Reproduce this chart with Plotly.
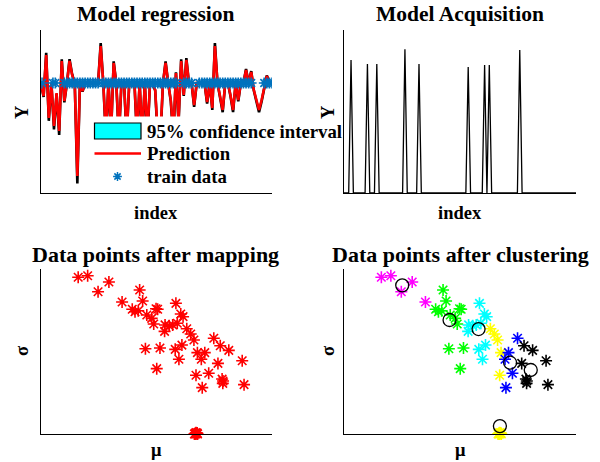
import plotly.graph_objects as go

FONT = "Liberation Serif"
W, H = 600, 462

# ---------------- data ----------------
# Model regression (top-left)
reg_index = list(range(1, 91))
reg_pred = [0, -0.325, 0.7, -0.875, 0, -1.075, -0.25, -1.2, 0.55, -0.45,
            0, 0.55, 0.2, 0, -2.325, 0, -0.2, 0, 0, 0,
            0, 0, 0, 0.925, 0, -1.3, 0, -1.175, 0.5, 0,
            -1.3, 0, 0, -1.3, 0, 0, 0, -1.3, 0, -1.3,
            0, -1.3, 0, 0, -0.175, -1.3, -1.3, 0, 0.5, 0,
            -0.425, -1.3, 0.25, -0.925, 0.55, -0.3, 0.575, 0, 0, -0.55,
            0, 0, 0, 0, -0.475, 0, -0.625, 0.925, 0, -0.3,
            -0.675, 0, 0, -0.3, -0.675, 0, -0.425, 0, 0, 0.325,
            0, 0.275, -0.175, -0.425, -0.675, -0.425, -0.125, 0.175, 0.025, 0]
ci_scale = 1.08  # 95% CI bound relative to prediction excursion
train_index = ([1.4, 5.6, 6.5] + [i for i in range(10, 54) if i != 24]
               + [56, 57, 58, 59] + list(range(62, 83)) + [87, 88, 89, 90])
train_value = [0.0] * len(train_index)

# Model acquisition (top-right)
acq_n = 100
acq_peak_index = [4, 11, 15, 27, 33, 54, 61, 63, 76]
acq_peak_value = [0.816, 0.791, 0.791, 0.882, 0.791, 0.773, 0.785, 0.785, 0.877]

# Data points after mapping / clustering (bottom)
mu = [0.161, 0.202, 0.294, 0.247, 0.351,
      0.427, 0.440, 0.395, 0.407, 0.421, 0.498, 0.505, 0.458, 0.479, 0.488,
      0.584, 0.605, 0.615, 0.537, 0.555, 0.570, 0.590, 0.535,
      0.631, 0.648, 0.662,
      0.452, 0.515,
      0.581, 0.610, 0.597,
      0.501,
      0.748,
      0.776, 0.813,
      0.677,
      0.709, 0.694,
      0.766, 0.871,
      0.671,
      0.726,
      0.784, 0.787, 0.788,
      0.698,
      0.879,
      0.664, 0.668, 0.671, 0.674, 0.678, 0.671, 0.667, 0.676]
sigma = [0.950, 0.959, 0.921, 0.862, 0.800,
         0.873, 0.806, 0.756, 0.741, 0.747, 0.759, 0.756, 0.721, 0.701, 0.667,
         0.792, 0.727, 0.711, 0.661, 0.656, 0.661, 0.671, 0.622,
         0.638, 0.606, 0.570,
         0.517, 0.521,
         0.513, 0.539, 0.453,
         0.396,
         0.580,
         0.535, 0.507,
         0.493,
         0.493, 0.453,
         0.428, 0.444,
         0.356,
         0.368,
         0.333, 0.307, 0.321,
         0.281,
         0.299,
         0.0, 0.004, 0.0, 0.004, 0.0, 0.008, 0.0, 0.006]
cluster = (["M"] * 5 + ["G"] * 10 + ["C"] * 8 + ["Y"] * 3 + ["G"] * 2 + ["C"] * 3
           + ["G"] + ["B"] + ["K"] * 2 + ["Y"] + ["B"] * 2 + ["K"] * 2 + ["Y"] + ["B"]
           + ["K"] * 3 + ["B"] + ["K"] + ["Y"] * 8)
cluster_order = ["M", "G", "C", "Y", "B", "K"]
cluster_color = {"M": "#FF00FF", "G": "#00FF00", "C": "#00FFFF",
                 "Y": "#FFFF00", "B": "#0000FF", "K": "#000000"}
centroid_mu = [0.251, 0.455, 0.580, 0.716, 0.805, 0.672]
centroid_sigma = [0.901, 0.691, 0.636, 0.432, 0.388, 0.048]

# ---------------- figure ----------------
fig = go.Figure()


def star(color, size, width):
    return dict(symbol="asterisk-open", size=size, color=color,
                line=dict(color=color, width=width))


# top-left
fig.add_trace(go.Scatter(x=reg_index, y=[v * ci_scale for v in reg_pred], mode="lines",
                         line=dict(color="black", width=2.6), xaxis="x", yaxis="y",
                         showlegend=False, hoverinfo="skip"))
fig.add_trace(go.Scatter(x=reg_index, y=reg_pred, mode="lines",
                         line=dict(color="#FF0000", width=2.6), xaxis="x", yaxis="y",
                         showlegend=False))
fig.add_trace(go.Scatter(x=train_index, y=train_value, mode="markers",
                         marker=star("#0072BD", 9, 1.6),
                         xaxis="x", yaxis="y", showlegend=False))

# top-right
acq_index = list(range(1, acq_n + 1))
acq_value = [0.0] * acq_n
for i, v in zip(acq_peak_index, acq_peak_value):
    acq_value[i - 1] = v
fig.add_trace(go.Scatter(x=acq_index, y=acq_value, mode="lines",
                         line=dict(color="black", width=1.3), xaxis="x2", yaxis="y2",
                         showlegend=False, cliponaxis=False))

# bottom-left
fig.add_trace(go.Scatter(x=mu, y=sigma, mode="markers",
                         marker=star("#FF0000", 10, 1.6),
                         xaxis="x3", yaxis="y3", showlegend=False, cliponaxis=False))

# bottom-right
for c in cluster_order:
    xs = [m for m, k in zip(mu, cluster) if k == c]
    ys = [s for s, k in zip(sigma, cluster) if k == c]
    fig.add_trace(go.Scatter(x=xs, y=ys, mode="markers",
                             marker=star(cluster_color[c], 10, 1.6),
                             xaxis="x4", yaxis="y4", showlegend=False, cliponaxis=False))
fig.add_trace(go.Scatter(x=centroid_mu, y=centroid_sigma, mode="markers",
                         marker=dict(symbol="circle-open", size=13, color="black",
                                     line=dict(color="black", width=1.3)),
                         xaxis="x4", yaxis="y4", showlegend=False, cliponaxis=False))


def px_x(p):
    return p / W


def px_y(p):
    return 1 - p / H


xL = [px_x(41), px_x(272)]
xR = [px_x(344), px_x(576)]
yT = [px_y(193), px_y(30)]
yB = [px_y(434), px_y(269)]

axis_common = dict(showline=True, linecolor="black", linewidth=1.3, showticklabels=False,
                   ticks="", showgrid=False, zeroline=False, fixedrange=True)

fig.update_layout(
    width=W, height=H, margin=dict(l=0, r=0, t=0, b=0),
    paper_bgcolor="white", plot_bgcolor="white", showlegend=False,
    xaxis=dict(domain=xL, range=[1, 90], anchor="y", **axis_common),
    yaxis=dict(domain=yT, range=[-2.75, 1.325], anchor="x", **axis_common),
    xaxis2=dict(domain=xR, range=[1, acq_n], anchor="y2", **axis_common),
    yaxis2=dict(domain=yT, range=[0, 1], anchor="x2", **axis_common),
    xaxis3=dict(domain=xL, range=[0, 1], anchor="y3", **axis_common),
    yaxis3=dict(domain=yB, range=[0, 1], anchor="x3", **axis_common),
    xaxis4=dict(domain=xR, range=[0, 1], anchor="y4", **axis_common),
    yaxis4=dict(domain=yB, range=[0, 1], anchor="x4", **axis_common),
)

annotations = []


def text(x, y, s, size, angle=0, xanchor="center"):
    annotations.append(dict(x=px_x(x), y=px_y(y), xref="paper", yref="paper", text=s,
                            showarrow=False, textangle=angle, xanchor=xanchor,
                            yanchor="middle",
                            font=dict(family=FONT, size=size, color="black")))


# titles
text(155, 14, "<b>Model regression</b>", 21.5)
text(460, 14, "<b>Model Acquisition</b>", 21.5)
text(155, 254, "<b>Data points after mapping</b>", 22)
text(460, 254, "<b>Data points after clustering</b>", 22)
# axis labels
text(156, 213, "<b>index</b>", 18.5)
text(460, 213, "<b>index</b>", 18.5)
text(22, 112, "<b>Y</b>", 18.5, angle=-90)
text(328, 112, "<b>Y</b>", 18.5, angle=-90)
text(22, 351, "<b>σ</b>", 18.5, angle=-90)
text(328, 351, "<b>σ</b>", 18.5, angle=-90)
text(156, 450, "<b>μ</b>", 18.5)
text(460, 450, "<b>μ</b>", 18.5)

# legend (top-left)
text(145, 131, "<b>95% confidence interval</b>", 18.8, xanchor="left")
text(145, 154, "<b>Prediction</b>", 18.8, xanchor="left")
text(145, 176.5, "<b>train data</b>", 18.8, xanchor="left")

shapes = [
    dict(type="rect", xref="paper", yref="paper", x0=px_x(92), x1=px_x(272),
         y0=px_y(191.5), y1=px_y(116.5), fillcolor="white", line=dict(width=0),
         layer="above"),
    dict(type="rect", xref="paper", yref="paper", x0=px_x(94.5), x1=px_x(141),
         y0=px_y(139), y1=px_y(123), fillcolor="#00FFFF",
         line=dict(color="black", width=1.2), layer="above"),
    dict(type="line", xref="paper", yref="paper", x0=px_x(94.5), x1=px_x(141),
         y0=px_y(153.5), y1=px_y(153.5), line=dict(color="#FF0000", width=2.6),
         layer="above"),
]
cx, cy, r = 117.5, 176.5, 4.4
d = r * 0.7071
segs = [((cx - r, cy), (cx + r, cy)), ((cx, cy - r), (cx, cy + r)),
        ((cx - d, cy - d), (cx + d, cy + d)), ((cx - d, cy + d), (cx + d, cy - d))]
path = " ".join(f"M{px_x(a[0]):.5f},{px_y(a[1]):.5f} L{px_x(b[0]):.5f},{px_y(b[1]):.5f}"
                for a, b in segs)
shapes.append(dict(type="path", xref="paper", yref="paper", path=path,
                   line=dict(color="#0072BD", width=1.5), layer="above"))

fig.update_layout(annotations=annotations, shapes=shapes)
fig.write_html("out.html")
